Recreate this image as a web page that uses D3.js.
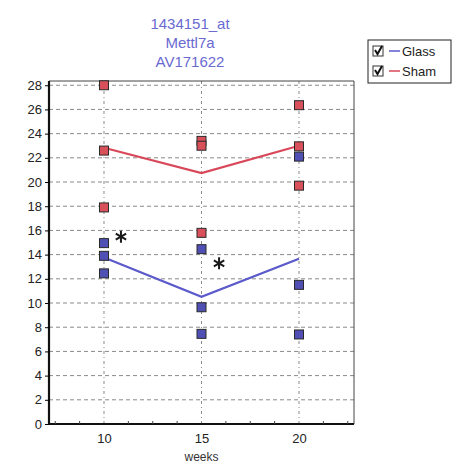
<!DOCTYPE html>
<html>
<head>
<meta charset="utf-8">
<script src="https://cdn.jsdelivr.net/npm/d3@7/dist/d3.min.js"></script>
<style>
  body { margin: 0; background: #fff; }
  svg { display: block; font-family: Arial, "Liberation Sans", sans-serif; }
</style>
</head>
<body>
<svg id="chart" width="458" height="476"></svg>
<script>
// Expression of 1434151_at (Mettl7a) per animal, by week and group
const titleLines = ["1434151_at", "Mettl7a", "AV171622"];
const weeks = [10, 15, 20];
const yTicks = [0, 2, 4, 6, 8, 10, 12, 14, 16, 18, 20, 22, 24, 26, 28];
const seriesNames = ["Glass", "Sham"];
const seriesColors = ["#5a5acc", "#d9485a"];
const markerFills = ["#4f4fb4", "#d8505a"];

// individual sample values, one array per week
const glassValues = [
  [14.95, 13.9, 12.45],
  [14.45, 9.65, 7.45],
  [22.1, 11.5, 7.4]
];
const shamValues = [
  [28.0, 22.6, 17.9],
  [23.4, 23.0, 15.8],
  [26.35, 22.95, 19.7]
];
// significance marks: [week, value]
const starMarks = [[10.87, 15.48], [15.9, 13.28]];

const svg = d3.select("#chart");
const plot = { left: 49, right: 354, top: 81, bottom: 424 };

const x = d3.scaleLinear().domain([7.18, 22.82]).range([plot.left, plot.right]);
const y = d3.scaleLinear().domain([0, 28.35]).range([plot.bottom, plot.top]);

// title
svg.append("g").selectAll("text").data(titleLines).join("text")
  .attr("x", 190).attr("y", (d, i) => 29 + i * 19)
  .attr("text-anchor", "middle")
  .attr("font-size", 15).attr("fill", "#6a6ad2")
  .text(d => d);

// grid
const grid = svg.append("g");
grid.selectAll("line.h").data(yTicks.filter(d => d > 0)).join("line")
  .attr("class", "h")
  .attr("x1", plot.left).attr("x2", plot.right)
  .attr("y1", d => y(d)).attr("y2", d => y(d))
  .attr("stroke", "#8a8a8a").attr("stroke-width", 1)
  .attr("stroke-dasharray", "4,3");
grid.selectAll("line.v").data(weeks).join("line")
  .attr("class", "v")
  .attr("x1", d => x(d)).attr("x2", d => x(d))
  .attr("y1", plot.top).attr("y2", plot.bottom)
  .attr("stroke", "#8a8a8a").attr("stroke-width", 1)
  .attr("stroke-dasharray", "3,3,1,3");

// frame: thin top and right
svg.append("path")
  .attr("d", `M${plot.left},${plot.top}H${plot.right}V${plot.bottom}`)
  .attr("fill", "none").attr("stroke", "#444").attr("stroke-width", 1);

// axes
const yAxis = svg.append("g")
  .attr("transform", `translate(${plot.left},0)`)
  .call(d3.axisLeft(y).tickValues(yTicks).tickSize(4).tickPadding(3));
yAxis.select(".domain").attr("stroke", "#111").attr("stroke-width", 2.2)
  .attr("d", `M0,${plot.top}V${plot.bottom}`);
yAxis.selectAll("text").attr("font-size", 13).attr("fill", "#222")
  .attr("font-family", "Arial, 'Liberation Sans', sans-serif");

const minorTicks = d3.range(7.5, 22.6, 1.25).filter(d => !weeks.includes(d));
const xAxis = svg.append("g")
  .attr("transform", `translate(0,${plot.bottom})`)
  .call(d3.axisBottom(x).tickValues(weeks).tickSize(0).tickPadding(10));
xAxis.select(".domain").attr("stroke", "#111").attr("stroke-width", 2.2)
  .attr("d", `M${plot.left},0H${plot.right}`);
xAxis.selectAll("text").attr("font-size", 13).attr("fill", "#222")
  .attr("font-family", "Arial, 'Liberation Sans', sans-serif");
xAxis.selectAll("line.minor").data(minorTicks).join("line")
  .attr("class", "minor")
  .attr("x1", d => x(d)).attr("x2", d => x(d))
  .attr("y1", -3).attr("y2", 0)
  .attr("stroke", "#444");

svg.append("text")
  .attr("x", x(15)).attr("y", 461)
  .attr("text-anchor", "middle").attr("font-size", 12).attr("fill", "#333")
  .text("weeks");

// mean lines
const line = d3.line().x(d => x(d[0])).y(d => y(d[1]));
[glassValues, shamValues].forEach((vals, s) => {
  const means = weeks.map((w, i) => [w, d3.mean(vals[i])]);
  svg.append("path").datum(means)
    .attr("d", line)
    .attr("fill", "none")
    .attr("stroke", seriesColors[s]).attr("stroke-width", 2.2);
});

// sample markers
[glassValues, shamValues].forEach((vals, s) => {
  const pts = weeks.flatMap((w, i) => vals[i].map(v => [w, v]));
  svg.append("g").selectAll("rect").data(pts).join("rect")
    .attr("x", d => x(d[0]) - 4.5).attr("y", d => y(d[1]) - 4.5)
    .attr("width", 9).attr("height", 9)
    .attr("fill", markerFills[s])
    .attr("stroke", "#2a2a2a").attr("stroke-width", 1);
});

// significance asterisks (six-spoked)
const starPath = d3.range(3).map(k => {
  const a = Math.PI / 2 + k * Math.PI / 3, r = 6;
  return `M${(-r * Math.cos(a)).toFixed(2)},${(-r * Math.sin(a)).toFixed(2)}L${(r * Math.cos(a)).toFixed(2)},${(r * Math.sin(a)).toFixed(2)}`;
}).join("");
svg.append("g").selectAll("path").data(starMarks).join("path")
  .attr("transform", d => `translate(${x(d[0])},${y(d[1])})`)
  .attr("d", starPath)
  .attr("stroke", "#1a1a1a").attr("stroke-width", 2).attr("fill", "none");

// legend
const legend = svg.append("g").attr("transform", "translate(368,40)");
legend.append("rect").attr("width", 83).attr("height", 43)
  .attr("fill", "#fff").attr("stroke", "#222").attr("stroke-width", 1);
seriesNames.forEach((name, i) => {
  const g = legend.append("g").attr("transform", `translate(0,${11 + i * 20})`);
  g.append("rect").attr("x", 5).attr("y", -5).attr("width", 10).attr("height", 10)
    .attr("fill", "#fff").attr("stroke", "#333").attr("stroke-width", 1);
  g.append("path").attr("d", "M7,-1 L9.5,3 L14,-5")
    .attr("fill", "none").attr("stroke", "#111").attr("stroke-width", 2);
  g.append("line").attr("x1", 21).attr("x2", 32).attr("y1", 0).attr("y2", 0)
    .attr("stroke", seriesColors[i]).attr("stroke-width", 1.5);
  g.append("text").attr("x", 34).attr("y", 5)
    .attr("font-size", 13).attr("fill", "#222").text(name);
});
</script>
</body>
</html>
